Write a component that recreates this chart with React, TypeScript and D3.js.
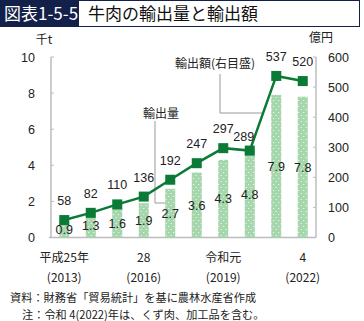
import React from "react";
import * as d3 from "d3";

const years = [2013, 2014, 2015, 2016, 2017, 2018, 2019, 2020, 2021, 2022];
const volume = [0.9, 1.3, 1.6, 1.9, 2.7, 3.6, 4.3, 4.8, 7.9, 7.8];
const amount = [58, 82, 110, 136, 192, 247, 297, 289, 537, 520];
const leftTicks = [0, 2, 4, 6, 8, 10];
const rightTicks = [0, 100, 200, 300, 400, 500, 600];
const xLabels = [
  { year: 2013, l1: "平成25年", l2: "(2013)" },
  { year: 2016, l1: "28", l2: "(2016)" },
  { year: 2019, l1: "令和元", l2: "(2019)" },
  { year: 2022, l1: "4", l2: "(2022)" },
];

const JP = "'Noto Sans CJK JP', 'Noto Sans', sans-serif";
const NUM = "'Liberation Sans', Arial, sans-serif";
const GREEN = "#0a7a36";
const BAR = "#a5d6ac";
const AXIS = "#bdbdbd";

export default function App() {
  const L = 51, R = 316, T = 57, B = 237.5;
  const x = d3.scalePoint<number>().domain(years).range([L, R]).padding(0.5);
  const yL = d3.scaleLinear().domain([0, 10]).range([B, T]);
  const yR = d3.scaleLinear().domain([0, 600]).range([B, T]);
  const bw = 10;
  const line = d3
    .line<number>()
    .x((_, i) => x(years[i]) as number)
    .y((d) => yR(d));

  const volBarX = (x(2017) as number) - bw / 2;
  const volLeaderY = 203;
  const ay = 113;
  const x0 = x(2020) as number, x1 = x(2021) as number;
  const y0 = yR(amount[7]), y1 = yR(amount[8]);
  const meetX = x0 + ((y0 - ay) / (y0 - y1)) * (x1 - x0);

  // labels before a steep rise are nudged left/down to clear the line
  const steep = (i: number) => i < amount.length - 1 && amount[i + 1] - amount[i] > 150;

  return (
    <div style={{ position: "fixed", left: 0, top: 0 }}>
      <svg width={364} height={321} style={{ display: "block", background: "#fff" }}>
        <defs>
          <pattern id="dots" width={5} height={6} patternUnits="userSpaceOnUse">
            <rect width={5} height={6} fill={BAR} />
            <circle cx={1.2} cy={1.5} r={0.6} fill="#fff" />
            <circle cx={3.7} cy={4.5} r={0.6} fill="#fff" />
          </pattern>
        </defs>
        <rect x={0} y={0} width={78} height={27} fill="#13204a" />
        <text x={4} y={20} fill="#fff" fontFamily={JP} fontSize={17}>図表1-5-5</text>
        <rect x={78.5} y={0.5} width={281} height={26} fill="#fff" stroke="#13204a" strokeWidth={1} />
        <text x={88} y={20} fill="#111" fontFamily={JP} fontSize={17}>牛肉の輸出量と輸出額</text>

        <text x={44} y={44} textAnchor="middle" fontFamily={JP} fontSize={12} fill="#222">千t</text>
        <text x={321} y={42} textAnchor="middle" fontFamily={JP} fontSize={12} fill="#222">億円</text>

        <line x1={L} x2={L} y1={T} y2={B} stroke={AXIS} strokeWidth={1.5} />
        <line x1={R} x2={R} y1={T} y2={B} stroke={AXIS} strokeWidth={1.5} />
        <line x1={L - 2} x2={R} y1={B} y2={B} stroke={AXIS} strokeWidth={1.5} />
        {leftTicks.map((t) => (
          <g key={"l" + t}>
            {t > 0 && <line x1={L} x2={L + 3} y1={yL(t)} y2={yL(t)} stroke={AXIS} />}
            <text x={35} y={yL(t) + 4.5} textAnchor="end" fontFamily={NUM} fontSize={12.5} fill="#222">{t}</text>
          </g>
        ))}
        {rightTicks.map((t) => (
          <g key={"r" + t}>
            {t > 0 && <line x1={R - 3} x2={R} y1={yR(t)} y2={yR(t)} stroke={AXIS} />}
            <text x={328} y={yR(t) + 4.5} textAnchor="start" fontFamily={NUM} fontSize={12.5} fill="#222">{t}</text>
          </g>
        ))}

        {volume.map((v, i) => (
          <rect key={"b" + i} x={(x(years[i]) as number) - bw / 2} y={yL(v)} width={bw} height={B - yL(v)} fill="url(#dots)" />
        ))}

        <polyline points={`155,121 155,${volLeaderY} ${volBarX},${volLeaderY}`} fill="none" stroke="#999" strokeWidth={1} />
        <text x={161} y={118} textAnchor="middle" fontFamily={JP} fontSize={12} fill="#222">輸出量</text>
        <polyline points={`220,74 220,${ay} ${meetX},${ay}`} fill="none" stroke="#999" strokeWidth={1} />
        <text x={215} y={68} textAnchor="middle" fontFamily={JP} fontSize={12} fill="#222">輸出額(右目盛)</text>

        <path d={line(amount) || ""} fill="none" stroke={GREEN} strokeWidth={2.5} />
        {amount.map((v, i) => (
          <rect key={"m" + i} x={(x(years[i]) as number) - 5} y={yR(v) - 5} width={10} height={10} fill={GREEN} />
        ))}

        {amount.map((v, i) => (
          <text key={"a" + i} x={(x(years[i]) as number) - (steep(i) ? 6 : 0)} y={yR(v) - (steep(i) ? 10 : 15)} textAnchor="middle" fontFamily={NUM} fontSize={12.5} fill="#222">{v}</text>
        ))}
        {volume.map((v, i) => (
          <text key={"v" + i} x={x(years[i]) as number} y={yL(v / 2) + 4.5} textAnchor="middle" fontFamily={NUM} fontSize={12.5} fill="#222">{v.toFixed(1)}</text>
        ))}

        {xLabels.map((d) => (
          <g key={"x" + d.year}>
            <text x={x(d.year) as number} y={262} textAnchor="middle" fontFamily={JP} fontSize={12} fill="#222">{d.l1}</text>
            <text x={x(d.year) as number} y={282} textAnchor="middle" fontFamily={JP} fontSize={12} fill="#222">{d.l2}</text>
          </g>
        ))}

        <text x={10} y={302} fontFamily={JP} fontSize={11.2} fill="#222">資料：財務省「貿易統計」を基に農林水産省作成</text>
        <text x={22} y={319} fontFamily={JP} fontSize={11.2} fill="#222">注：令和 4(2022)年は、くず肉、加工品を含む。</text>
      </svg>
    </div>
  );
}
